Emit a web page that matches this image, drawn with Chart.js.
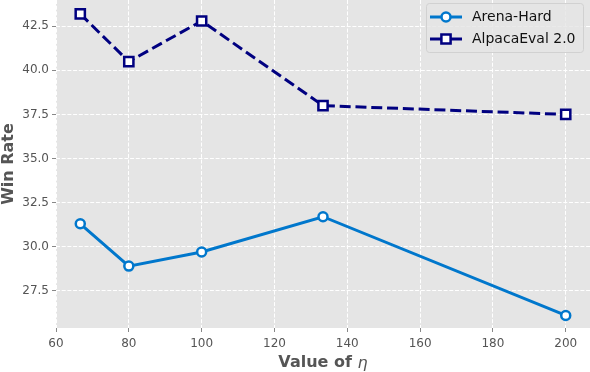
<!DOCTYPE html>
<html>
<head>
<meta charset="utf-8">
<script src="https://cdn.jsdelivr.net/npm/chart.js@4.4.0/dist/chart.umd.min.js"></script>
<style>
html, body { margin: 0; padding: 0; background: #fff; }
#wrap { width: 590px; height: 372px; position: relative; }
</style>
</head>
<body>
<div id="wrap"><canvas id="myChart"></canvas></div>
<script>
const etaValues = [200 / 3, 80, 100, 400 / 3, 200];
const arenaHard = [31.3, 28.9, 29.7, 31.7, 26.1];
const alpacaEval = [43.2, 40.5, 42.8, 38.0, 37.5];
const xTicks = [60, 80, 100, 120, 140, 160, 180, 200];
const yTicks = [27.5, 30.0, 32.5, 35.0, 37.5, 40.0, 42.5];
const seriesNames = ['Arena-Hard', 'AlpacaEval 2.0'];

const blue = '#0077CC';
const navy = '#000080';
const font = '"DejaVu Sans", sans-serif';

const ctx = document.getElementById('myChart');

// grey ggplot-like panel
const panelBg = {
    id: 'panelBg',
    beforeDraw(chart) {
        const a = chart.chartArea;
        const c = chart.ctx;
        c.save();
        c.fillStyle = '#E5E5E5';
        c.fillRect(a.left, a.top, a.right - a.left, a.bottom - a.top);
        c.restore();
    }
};

// legend box inside the panel, line + marker handles
const legendBox = {
    id: 'legendBox',
    afterDatasetsDraw(chart) {
        const c = chart.ctx;
        c.save();
        c.beginPath();
        c.roundRect(426.5, 3.5, 157, 49, 3);
        c.fillStyle = 'rgba(229,229,229,0.8)';
        c.fill();
        c.strokeStyle = '#D1D1D1';
        c.lineWidth = 1;
        c.stroke();

        const rows = [17, 39];
        chart.data.datasets.forEach((ds, i) => {
            const y = rows[i];
            c.strokeStyle = ds.borderColor;
            c.lineWidth = ds.borderWidth;
            c.setLineDash([]);
            c.beginPath();
            c.moveTo(430, y);
            c.lineTo(462, y);
            c.stroke();
            c.fillStyle = '#fff';
            c.lineWidth = ds.pointBorderWidth;
            c.beginPath();
            if (ds.pointStyle === 'rect') {
                const s = ds.pointRadius * Math.SQRT1_2;
                c.rect(446 - s, y - s, 2 * s, 2 * s);
            } else {
                c.arc(446, y, ds.pointRadius, 0, Math.PI * 2);
            }
            c.fill();
            c.stroke();
            c.fillStyle = '#111';
            c.font = '14px ' + font;
            c.textAlign = 'left';
            c.textBaseline = 'middle';
            c.fillText(ds.label, 472, y);
        });
        c.restore();
    }
};

// axis titles (eta in italic)
const axisTitles = {
    id: 'axisTitles',
    afterDraw(chart) {
        const a = chart.chartArea;
        const c = chart.ctx;
        c.save();
        c.fillStyle = '#555';
        c.textBaseline = 'middle';
        c.font = 'bold 16px ' + font;
        c.save();
        c.translate(9, (a.top + a.bottom) / 2);
        c.rotate(-Math.PI / 2);
        c.textAlign = 'center';
        c.fillText('Win Rate', 0, 0);
        c.restore();

        const t1 = 'Value of ';
        const t2 = 'η';
        const w1 = c.measureText(t1).width;
        c.font = 'italic 16px ' + font;
        const w2 = c.measureText(t2).width;
        const x0 = (a.left + a.right) / 2 - (w1 + w2) / 2;
        c.textAlign = 'left';
        c.font = 'bold 16px ' + font;
        c.fillText(t1, x0, 363);
        c.font = 'italic 16px ' + font;
        c.fillText(t2, x0 + w1, 364);
        c.restore();
    }
};

new Chart(ctx, {
    type: 'line',
    data: {
        datasets: [
            {
                label: seriesNames[0],
                data: etaValues.map((x, i) => ({x: x, y: arenaHard[i]})),
                borderColor: blue,
                borderWidth: 3,
                pointStyle: 'circle',
                pointRadius: 4.5,
                pointBorderWidth: 2.5,
                pointBackgroundColor: '#fff',
                pointBorderColor: blue,
                tension: 0
            },
            {
                label: seriesNames[1],
                data: etaValues.map((x, i) => ({x: x, y: alpacaEval[i]})),
                borderColor: navy,
                borderWidth: 3,
                borderDash: [11, 4.8],
                pointStyle: 'rect',
                pointRadius: 6.5,
                pointBorderWidth: 2.5,
                pointBackgroundColor: '#fff',
                pointBorderColor: navy,
                tension: 0
            }
        ]
    },
    options: {
        responsive: true,
        maintainAspectRatio: false,
        animation: false,
        layout: { padding: 0, autoPadding: false },
        plugins: {
            legend: { display: false },
            tooltip: { enabled: false }
        },
        scales: {
            x: {
                type: 'linear',
                min: 60,
                max: 620 / 3,
                afterBuildTicks: s => { s.ticks = xTicks.map(v => ({value: v})); },
                afterFit: s => { s.height = 44; s.paddingLeft = 0; s.paddingRight = 0; },
                ticks: {
                    color: '#555',
                    font: { family: font, size: 12 },
                    padding: 5,
                    maxRotation: 0,
                    callback: v => String(v)
                },
                grid: { color: '#fff', lineWidth: 1, tickLength: 4, tickColor: '#888' },
                border: { display: false, dash: [4, 1.7] }
            },
            y: {
                min: 25.39,
                max: 43.99,
                afterBuildTicks: s => { s.ticks = yTicks.map(v => ({value: v})); },
                afterFit: s => { s.width = 56; s.paddingTop = 0; s.paddingBottom = 0; },
                ticks: {
                    color: '#555',
                    font: { family: font, size: 12 },
                    padding: 3,
                    callback: v => v.toFixed(1)
                },
                grid: { color: '#fff', lineWidth: 1, tickLength: 4, tickColor: '#888' },
                border: { display: false, dash: [4, 1.7] }
            }
        }
    },
    plugins: [panelBg, legendBox, axisTitles]
});
</script>
</body>
</html>
